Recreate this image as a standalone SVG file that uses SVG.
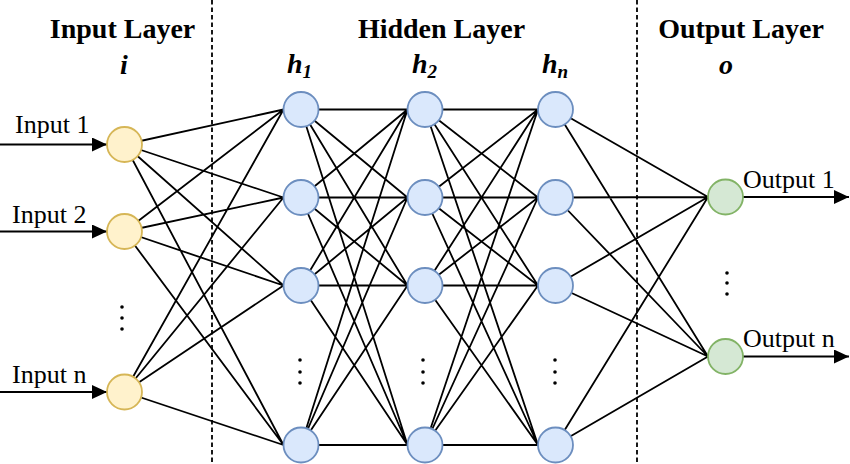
<svg xmlns="http://www.w3.org/2000/svg" width="850" height="464" viewBox="0 0 850 464">
<style>
.edge{stroke:#000;stroke-width:1.8;fill:none}
.dash{stroke:#000;stroke-width:1.8;stroke-dasharray:4.5 3;fill:none}
.in{fill:#fff2cc;stroke:#d6b656;stroke-width:1.8}
.hid{fill:#dae8fc;stroke:#6c8ebf;stroke-width:1.8}
.out{fill:#d5e8d4;stroke:#82b366;stroke-width:1.8}
.hdr{font-family:"Liberation Serif","Times New Roman",serif;font-weight:bold;font-size:28px;fill:#000;text-anchor:middle}
.sym{font-family:"Liberation Serif","Times New Roman",serif;font-weight:bold;font-style:italic;font-size:28px;fill:#000}
.lbl{font-family:"Liberation Serif","Times New Roman",serif;font-size:26px;fill:#000}
.dot{fill:#000}
</style>
<defs>
<marker id="arr" markerUnits="userSpaceOnUse" markerWidth="15" markerHeight="14" viewBox="0 0 15 14" refX="15" refY="7" orient="auto">
<path d="M0,0 L15,7 L0,14 z" fill="#000"/>
</marker>
</defs>
<rect width="850" height="464" fill="#fff"/>
<g id="separators">
<line class="dash" x1="212" y1="0" x2="212" y2="464"/>
<line class="dash" x1="637" y1="0" x2="637" y2="464"/>
</g>
<g id="headers">
<text class="hdr" x="122.5" y="38">Input Layer</text>
<text class="hdr" x="441.5" y="38">Hidden Layer</text>
<text class="hdr" x="741" y="38">Output Layer</text>
<text class="sym" x="124" y="74" text-anchor="middle">i</text>
<text class="sym" x="287" y="73">h<tspan font-size="19" dy="5">1</tspan></text>
<text class="sym" x="412" y="73">h<tspan font-size="19" dy="5">2</tspan></text>
<text class="sym" x="542" y="73">h<tspan font-size="19" dy="5">n</tspan></text>
<text class="sym" x="726" y="74" text-anchor="middle">o</text>
</g>
<g id="connectors">
<path class="edge" d="M124.5,144.5L283.5,109.5M124.5,144.5L283.5,197.5M124.5,144.5L283.5,285.5M124.5,144.5L283.5,445
M124.5,231.5L283.5,109.5M124.5,231.5L283.5,197.5M124.5,231.5L283.5,285.5M124.5,231.5L283.5,445
M124.5,392L283.5,109.5M124.5,392L283.5,197.5M124.5,392L283.5,285.5M124.5,392L283.5,445"/>
<path class="edge" d="M301,109.5L407.5,109.5M301,109.5L407.5,197.5M301,109.5L407.5,285.5M301,109.5L407.5,445
M301,197.5L407.5,109.5M301,197.5L407.5,197.5M301,197.5L407.5,285.5M301,197.5L407.5,445
M301,285.5L407.5,109.5M301,285.5L407.5,197.5M301,285.5L407.5,285.5M301,285.5L407.5,445
M301,445L407.5,109.5M301,445L407.5,197.5M301,445L407.5,285.5M301,445L407.5,445"/>
<path class="edge" d="M425,109.5L538,109.5M425,109.5L538,197.5M425,109.5L538,285.5M425,109.5L538,445
M425,197.5L538,109.5M425,197.5L538,197.5M425,197.5L538,285.5M425,197.5L538,445
M425,285.5L538,109.5M425,285.5L538,197.5M425,285.5L538,285.5M425,285.5L538,445
M425,445L538,109.5M425,445L538,197.5M425,445L538,285.5M425,445L538,445"/>
<path class="edge" d="M555.5,109.5L708,197M555.5,109.5L708,356.5
M555.5,197.5L708,197M555.5,197.5L708,356.5
M555.5,285.5L708,197M555.5,285.5L708,356.5
M555.5,445L708,197M555.5,445L708,356.5"/>
<line class="edge" x1="0" y1="144.5" x2="107" y2="144.5" marker-end="url(#arr)"/>
<line class="edge" x1="0" y1="231.5" x2="107" y2="231.5" marker-end="url(#arr)"/>
<line class="edge" x1="0" y1="392" x2="107" y2="392" marker-end="url(#arr)"/>
<line class="edge" x1="743" y1="197" x2="849" y2="197" marker-end="url(#arr)"/>
<line class="edge" x1="743" y1="356.5" x2="849" y2="356.5" marker-end="url(#arr)"/>
</g>
<g id="input-nodes">
<g id="in1"><circle class="in" cx="124.5" cy="144.5" r="17.5"/><text class="lbl" x="15" y="133">Input 1</text></g>
<g id="in2"><circle class="in" cx="124.5" cy="231.5" r="17.5"/><text class="lbl" x="12" y="223">Input 2</text></g>
<g id="inn"><circle class="in" cx="124.5" cy="392" r="17.5"/><text class="lbl" x="12" y="383">Input n</text></g>
<g id="in-dots"><circle class="dot" cx="122" cy="307" r="1.8"/><circle class="dot" cx="122" cy="318" r="1.8"/><circle class="dot" cx="122" cy="329" r="1.8"/></g>
</g>
<g id="hidden-nodes">
<g id="h1-1"><circle class="hid" cx="301" cy="109.5" r="17.5"/></g>
<g id="h1-2"><circle class="hid" cx="301" cy="197.5" r="17.5"/></g>
<g id="h1-3"><circle class="hid" cx="301" cy="285.5" r="17.5"/></g>
<g id="h1-n"><circle class="hid" cx="301" cy="445" r="17.5"/></g>
<g id="h2-1"><circle class="hid" cx="425" cy="109.5" r="17.5"/></g>
<g id="h2-2"><circle class="hid" cx="425" cy="197.5" r="17.5"/></g>
<g id="h2-3"><circle class="hid" cx="425" cy="285.5" r="17.5"/></g>
<g id="h2-n"><circle class="hid" cx="425" cy="445" r="17.5"/></g>
<g id="hn-1"><circle class="hid" cx="555.5" cy="109.5" r="17.5"/></g>
<g id="hn-2"><circle class="hid" cx="555.5" cy="197.5" r="17.5"/></g>
<g id="hn-3"><circle class="hid" cx="555.5" cy="285.5" r="17.5"/></g>
<g id="hn-n"><circle class="hid" cx="555.5" cy="445" r="17.5"/></g>
<g id="hid-dots">
<circle class="dot" cx="300" cy="360" r="1.8"/><circle class="dot" cx="300" cy="372" r="1.8"/><circle class="dot" cx="300" cy="383" r="1.8"/>
<circle class="dot" cx="423" cy="360" r="1.8"/><circle class="dot" cx="423" cy="372" r="1.8"/><circle class="dot" cx="423" cy="383" r="1.8"/>
<circle class="dot" cx="555" cy="360" r="1.8"/><circle class="dot" cx="555" cy="372" r="1.8"/><circle class="dot" cx="555" cy="383" r="1.8"/>
</g>
</g>
<g id="output-nodes">
<g id="out1"><circle class="out" cx="725.5" cy="197" r="17.5"/><text class="lbl" x="743" y="188">Output 1</text></g>
<g id="outn"><circle class="out" cx="725.5" cy="356.5" r="17.5"/><text class="lbl" x="743" y="347">Output n</text></g>
<g id="out-dots"><circle class="dot" cx="727" cy="273" r="1.8"/><circle class="dot" cx="727" cy="283" r="1.8"/><circle class="dot" cx="727" cy="294" r="1.8"/></g>
</g>
</svg>
